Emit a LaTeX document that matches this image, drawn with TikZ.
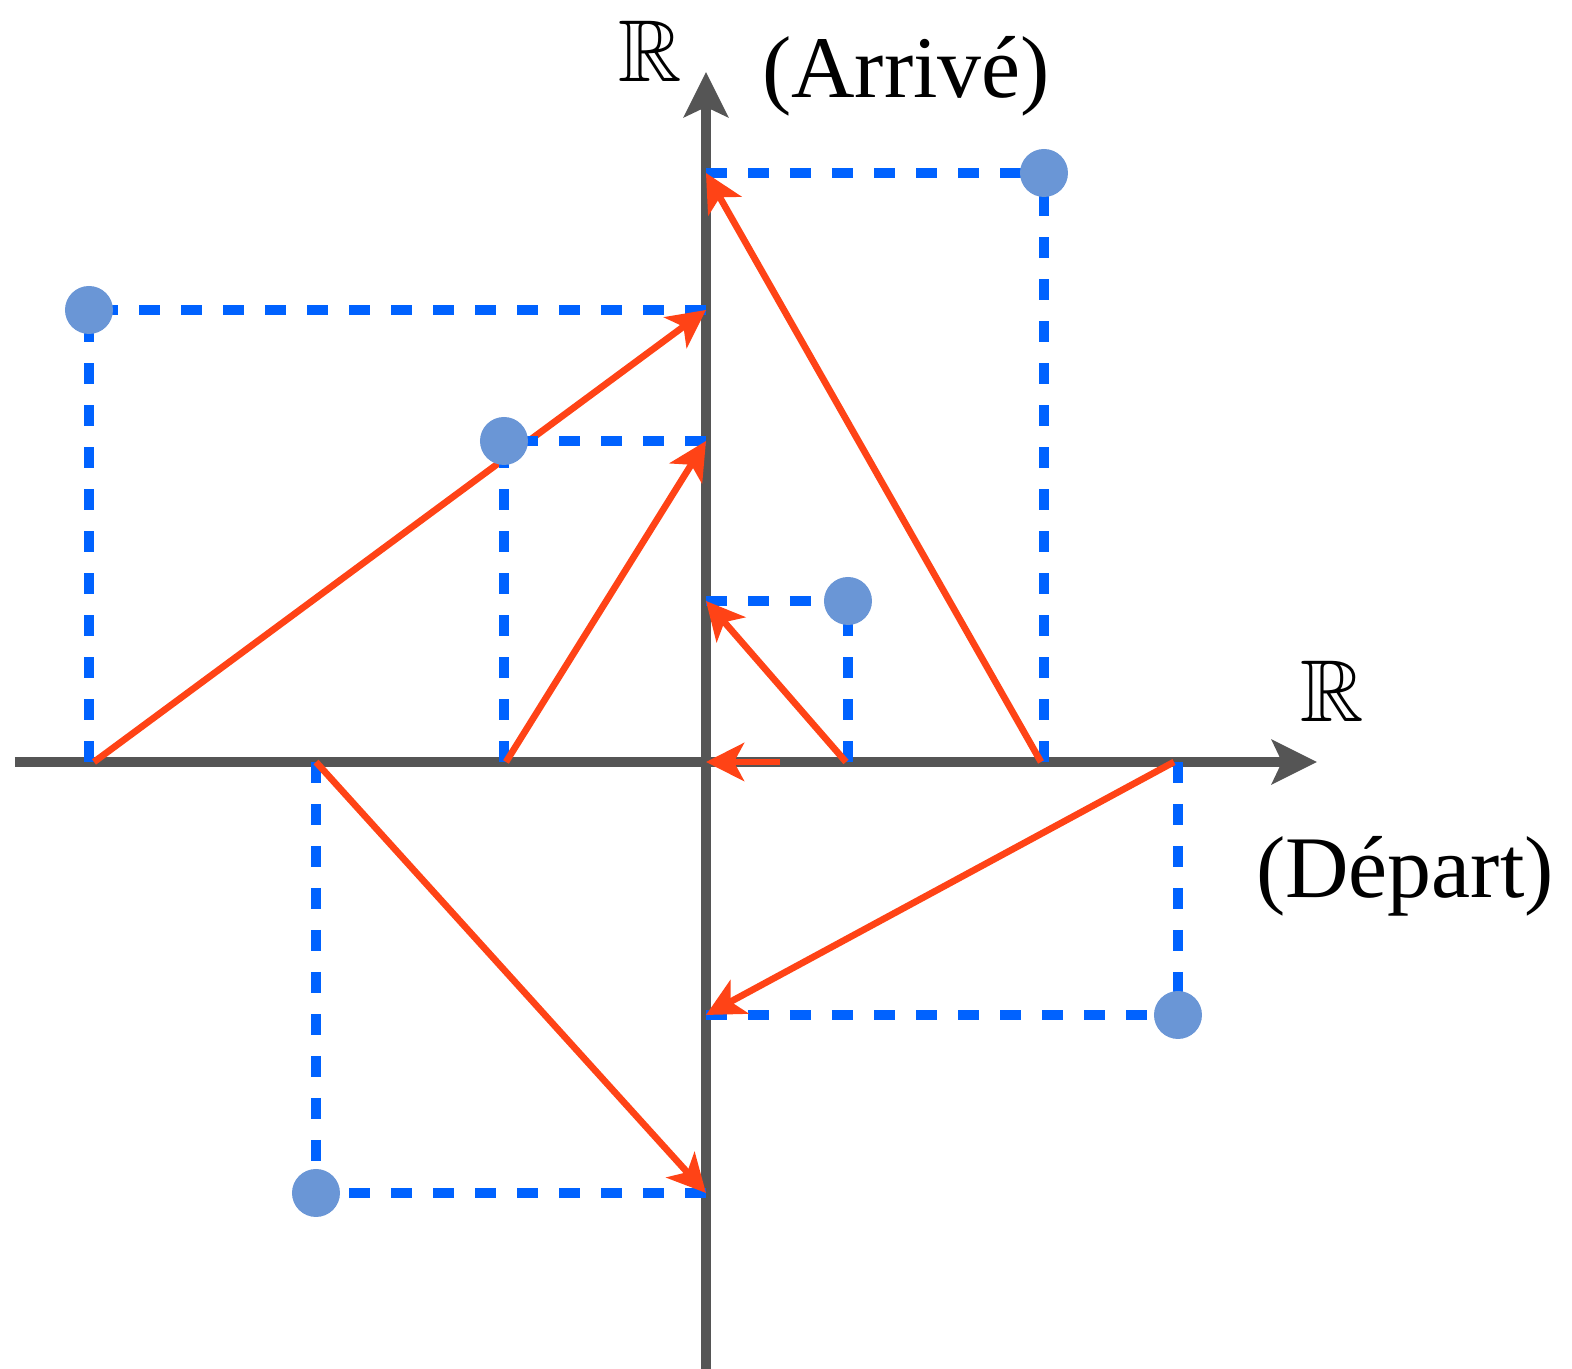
\documentclass[tikz,border=0pt]{standalone}
\usepackage{amssymb}
\usepackage{fontspec}
\setmainfont{Liberation Serif}
\usetikzlibrary{arrows.meta}
\definecolor{axisgray}{HTML}{555555}
\definecolor{mapred}{HTML}{FF4316}
\definecolor{guideblue}{HTML}{0062FF}
\definecolor{dotblue}{HTML}{6A96D6}

\begin{document}
\begin{tikzpicture}[
  axis/.style={line width=2.9pt, axisgray, -{Stealth[length=0.45cm, width=0.44cm, inset=0.1cm]}},
  guide/.style={guideblue, line width=2.7pt, dash pattern=on 0.21cm off 0.21cm},
  maparrow/.style={mapred, line width=1.9pt, -{Stealth[length=0.38cm, width=0.38cm, inset=0.1cm]}},
  pt/.style={circle, fill=dotblue, inner sep=0pt, minimum size=0.48cm},
  lab/.style={font=\fontsize{25}{30}\selectfont, anchor=base, inner sep=1pt}
]
  \useasboundingbox (-7.06,-6.07) rectangle (8.66,7.62);
  \coordinate (O) at (0,0);
  \draw[axis] (-6.91,0) -- (6.11,0);
  \draw[axis] (0,-6.07) -- (0,6.90);
  \foreach \i/\x/\y/\f in {1/3.38/5.89/3.35, 2/-6.17/4.52/-6.12, 3/-2.02/3.21/-2.00,
                           4/1.42/1.61/1.40, 5/4.72/-2.53/4.68, 6/-3.90/-4.31/-3.90} {
    \coordinate (c\i) at (\x,\y);
    \coordinate (f\i) at (\f,0);
    \draw[guide] (c\i -| O) -- (c\i);
    \draw[guide] (c\i |- O) -- (c\i);
    \draw[maparrow] (f\i) -- (c\i -| O);
    \node[pt] (p\i) at (c\i) {};
  }
  \coordinate (f7) at (0.74,0);
  \draw[maparrow] (f7) -- (O);
  \node[lab] (ry) at (-0.56,6.80) {$\mathbb{R}$};
  \node[lab] (arr) at (2.00,6.64) {(Arrivé)};
  \node[lab] (rx) at (6.26,0.40) {$\mathbb{R}$};
  \node[lab] (dep) at (6.99,-1.36) {(Départ)};
\end{tikzpicture}
\end{document}
